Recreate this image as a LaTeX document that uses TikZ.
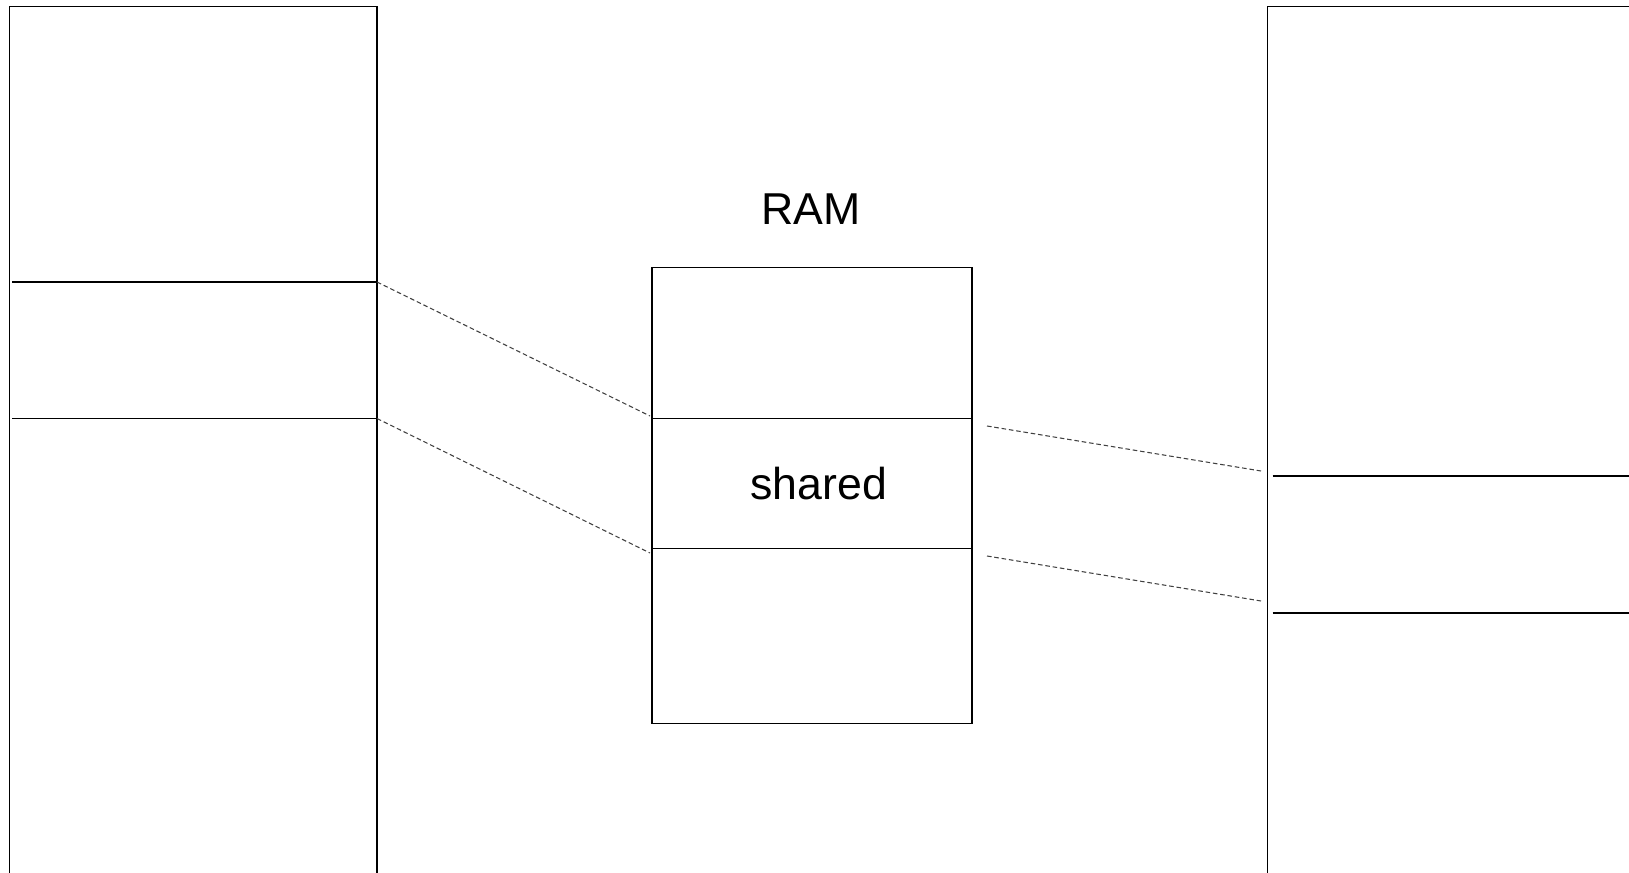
\documentclass[tikz,border=0pt]{standalone}
\usepackage{fontspec}
\setmainfont{Liberation Sans}
\usetikzlibrary{positioning}

\begin{document}
\begin{tikzpicture}[x=0.01cm, y=-0.01cm, line width=0.35pt]
    \tikzset{
        label/.style={font=\fontsize{12.7}{15}\selectfont, inner sep=0pt, anchor=base},
        link/.style={dash pattern=on 1.3pt off 0.8pt, line width=0.3pt, black!75},
    }
    \useasboundingbox (0,0) rectangle (1629,873);
    \clip (0,0) rectangle (1629,873);

    % Left address space
    \draw (9.5,6.5) rectangle (377,900);
    \coordinate (lA) at (377,282);
    \coordinate (lB) at (377,418.5);
    \draw (12,282) -- (lA);
    \draw (12,418.5) -- (lB);

    % RAM
    \draw (652,267.5) rectangle (972,723.5);
    \coordinate (mA) at (652,418.5);
    \coordinate (mB) at (652,548.5);
    \draw (mA) -- (972,418.5);
    \draw (mB) -- (972,548.5);
    \node[label] (ram) at (811,224.6) {RAM};
    \node[label] (shared) at (818.7,499.6) {shared};

    % Right address space
    \draw (1267.7,6.5) rectangle (1700,900);
    \draw (1272.7,476) -- (1700,476);
    \draw (1272.7,613) -- (1700,613);

    % Mapping
    \coordinate (mA') at (650,416);
    \coordinate (mB') at (650,553);
    \draw[link] (lA) -- (mA');
    \draw[link] (lB) -- (mB');
    \coordinate (rA) at (987,426);
    \coordinate (rB) at (987,556);
    \coordinate (rA') at (1261,471);
    \coordinate (rB') at (1261,601);
    \draw[link] (rA) -- (rA');
    \draw[link] (rB) -- (rB');
\end{tikzpicture}
\end{document}
